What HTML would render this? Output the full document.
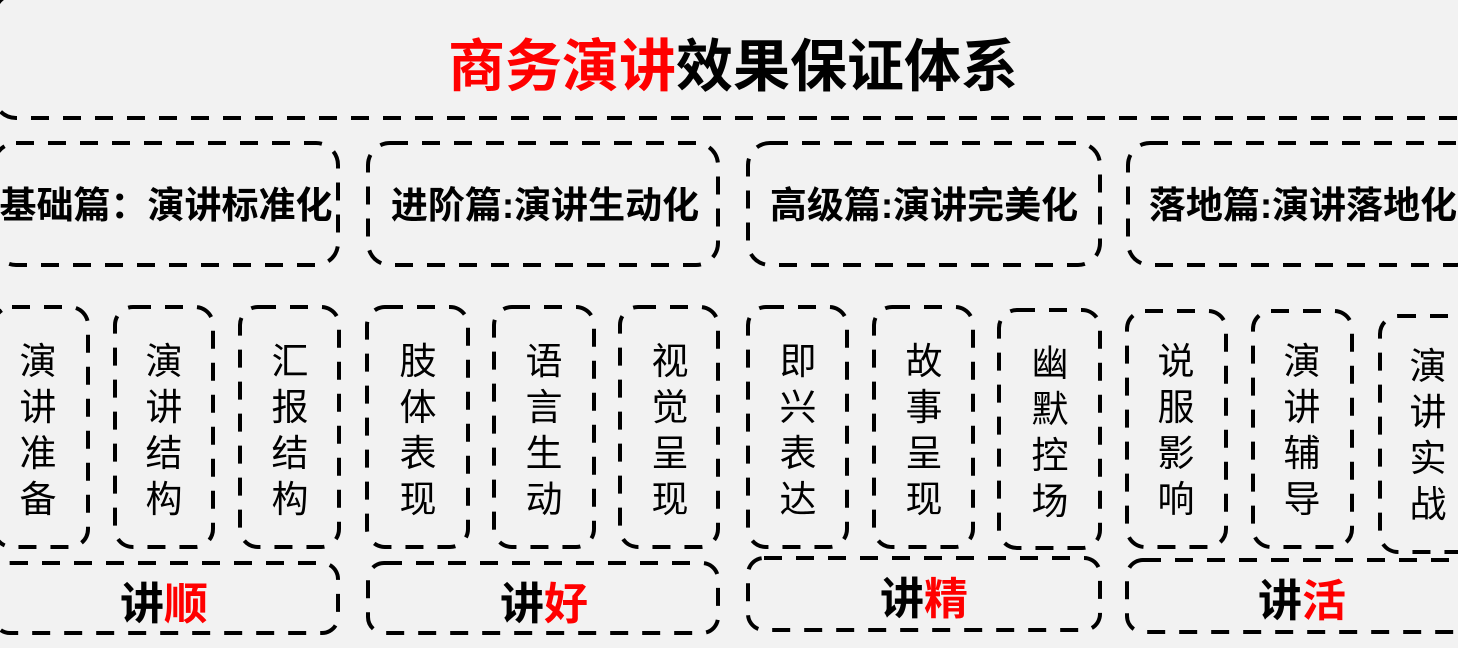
<!DOCTYPE html>
<html><head><meta charset="utf-8"><style>
html,body{margin:0;padding:0;background:#f2f2f2;width:1458px;height:648px;overflow:hidden}
svg text{font-family:"Liberation Sans","Noto Sans CJK SC",sans-serif}
</style></head><body>
<svg width="1458" height="648" xmlns="http://www.w3.org/2000/svg">
<g fill="none" stroke="#000" stroke-width="4" stroke-dasharray="18,14">
<rect x="-6" y="-6" width="1490" height="124" rx="22"/>
<rect x="-6" y="143" width="344" height="122" rx="22"/>
<rect x="368" y="143" width="350" height="122" rx="22"/>
<rect x="748" y="143" width="352" height="122" rx="22"/>
<rect x="1128" y="143" width="350" height="122" rx="22"/>
<rect x="-6" y="307" width="94" height="240" rx="18"/>
<rect x="115" y="307" width="98" height="240" rx="18"/>
<rect x="240" y="307" width="99" height="240" rx="18"/>
<rect x="367" y="307" width="101" height="240" rx="18"/>
<rect x="494" y="307" width="100" height="240" rx="18"/>
<rect x="620" y="307" width="98" height="240" rx="18"/>
<rect x="748" y="307" width="99" height="240" rx="18"/>
<rect x="874" y="307" width="99" height="240" rx="18"/>
<rect x="999" y="310" width="101" height="238" rx="18"/>
<rect x="1127" y="311" width="99" height="236" rx="18"/>
<rect x="1253" y="311" width="99" height="236" rx="18"/>
<rect x="1380" y="316" width="100" height="236" rx="18"/>
<rect x="-6" y="563" width="344" height="70" rx="16"/>
<rect x="368" y="563" width="350" height="70" rx="16"/>
<rect x="748" y="558" width="352" height="72" rx="16"/>
<rect x="1127" y="560" width="350" height="72" rx="16"/>
</g>
<text x="733" y="86" font-size="57" font-weight="bold" text-anchor="middle"><tspan fill="#ff0000">商务演讲</tspan><tspan fill="#000">效果保证体系</tspan></text>
<g font-size="37" font-weight="bold" fill="#000">
<text x="166" y="218" text-anchor="middle">基础篇：演讲标准化</text>
<text x="545" y="218" text-anchor="middle">进阶篇:演讲生动化</text>
<text x="924" y="218" text-anchor="middle">高级篇:演讲完美化</text>
<text x="1303" y="218" text-anchor="middle">落地篇:演讲落地化</text>
</g>
<g font-size="37" fill="#000" text-anchor="middle">
<text x="38" y="374">演</text><text x="38" y="420">讲</text><text x="38" y="466">准</text><text x="38" y="512">备</text>
<text x="164" y="374">演</text><text x="164" y="420">讲</text><text x="164" y="466">结</text><text x="164" y="512">构</text>
<text x="290" y="374">汇</text><text x="290" y="420">报</text><text x="290" y="466">结</text><text x="290" y="512">构</text>
<text x="418" y="374">肢</text><text x="418" y="420">体</text><text x="418" y="466">表</text><text x="418" y="512">现</text>
<text x="544" y="374">语</text><text x="544" y="420">言</text><text x="544" y="466">生</text><text x="544" y="512">动</text>
<text x="670" y="374">视</text><text x="670" y="420">觉</text><text x="670" y="466">呈</text><text x="670" y="512">现</text>
<text x="798" y="374">即</text><text x="798" y="420">兴</text><text x="798" y="466">表</text><text x="798" y="512">达</text>
<text x="924" y="374">故</text><text x="924" y="420">事</text><text x="924" y="466">呈</text><text x="924" y="512">现</text>
<text x="1050" y="376">幽</text><text x="1050" y="422">默</text><text x="1050" y="468">控</text><text x="1050" y="514">场</text>
<text x="1176" y="374">说</text><text x="1176" y="420">服</text><text x="1176" y="466">影</text><text x="1176" y="512">响</text>
<text x="1302" y="374">演</text><text x="1302" y="420">讲</text><text x="1302" y="466">辅</text><text x="1302" y="512">导</text>
<text x="1428" y="379">演</text><text x="1428" y="425">讲</text><text x="1428" y="471">实</text><text x="1428" y="517">战</text>
</g>
<g font-size="44" font-weight="bold" text-anchor="middle">
<text x="164" y="619"><tspan fill="#000">讲</tspan><tspan fill="#ff0000">顺</tspan></text>
<text x="544" y="619"><tspan fill="#000">讲</tspan><tspan fill="#ff0000">好</tspan></text>
<text x="924" y="614"><tspan fill="#000">讲</tspan><tspan fill="#ff0000">精</tspan></text>
<text x="1302" y="616"><tspan fill="#000">讲</tspan><tspan fill="#ff0000">活</tspan></text>
</g>
</svg>
</body></html>
